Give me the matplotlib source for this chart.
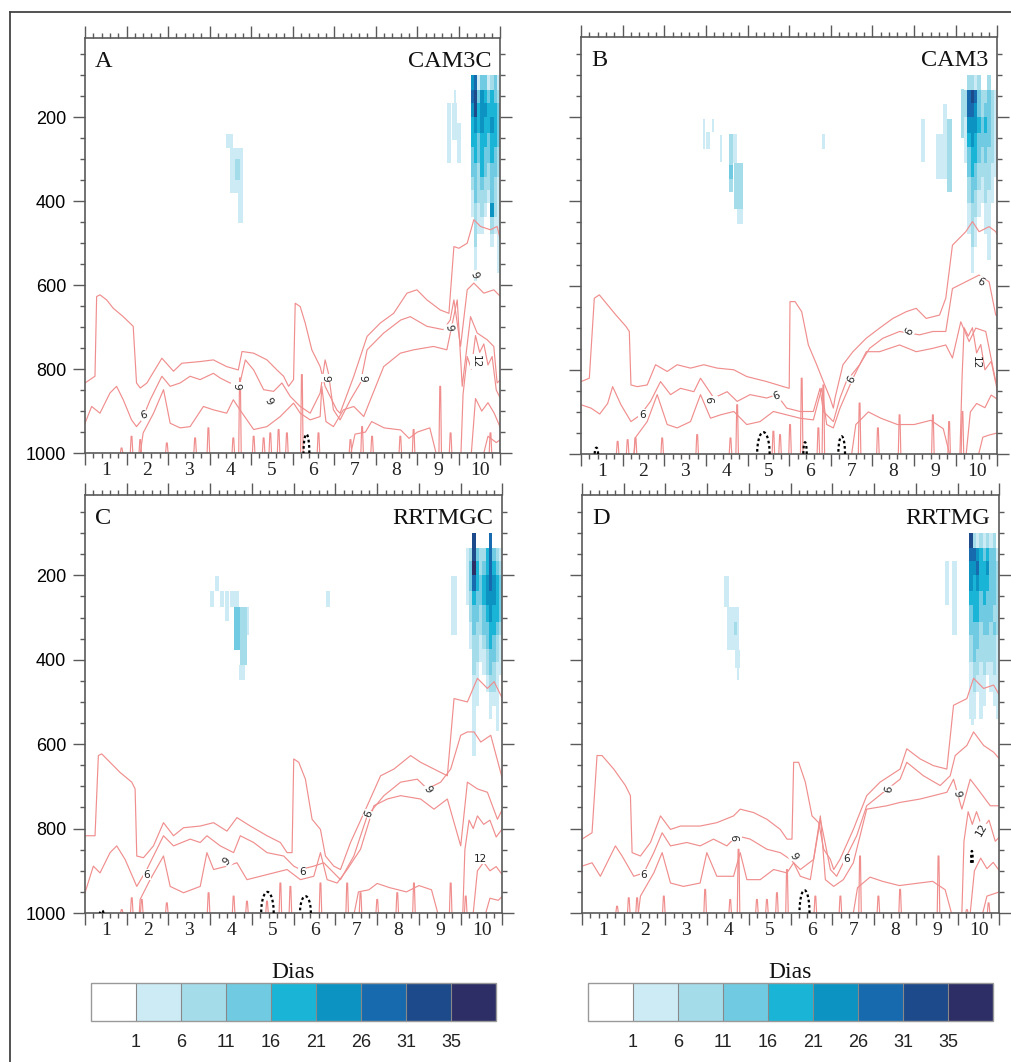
import numpy as np
import matplotlib
matplotlib.use('Agg')
import matplotlib.pyplot as plt
from matplotlib.colors import ListedColormap, BoundaryNorm
from matplotlib.cm import ScalarMappable
from matplotlib.ticker import FixedLocator, MultipleLocator, NullFormatter

# ---- shared values ----
day_labels = [1, 2, 3, 4, 5, 6, 7, 8, 9, 10]
p_ticks = [200, 400, 600, 800, 1000]
cbar_bounds = [1, 6, 11, 16, 21, 26, 31, 35]
level_colors = ['#ffffff', '#cdebf5', '#a5dcea', '#70cbe2', '#1ab5d6',
                '#0d93c1', '#176aae', '#1d4a8a', '#2d2e66']
panel_letters = ['A', 'B', 'C', 'D']
panel_names = ['CAM3C', 'CAM3', 'RRTMGC', 'RRTMG']

# ---- main upper-level cluster near day 10: row edges (hPa), column edges (day), levels ----
cluster_rows = [100, 136, 167, 199, 238, 271, 310, 342, 374, 405, 437, 477, 509, 540, 570]
a_cluster_cols = [9.28, 9.36, 9.44, 9.52, 9.60, 9.68, 9.76, 9.84, 9.92, 10.0]
a_cluster = [
    [5, 6, 1, 3, 3, 1, 2, 3, 1],
    [6, 7, 3, 5, 4, 3, 4, 3, 2],
    [5, 7, 4, 5, 5, 4, 4, 4, 3],
    [4, 5, 4, 5, 4, 4, 5, 4, 3],
    [4, 4, 3, 4, 4, 3, 4, 4, 3],
    [3, 4, 3, 4, 3, 3, 4, 3, 2],
    [3, 3, 2, 4, 3, 2, 3, 3, 2],
    [2, 3, 2, 3, 2, 2, 3, 2, 1],
    [1, 3, 2, 2, 2, 1, 3, 2, 1],
    [1, 2, 1, 2, 1, 0, 5, 2, 1],
    [0, 2, 1, 1, 0, 0, 2, 1, 1],
    [0, 2, 0, 0, 0, 0, 1, 0, 1],
    [0, 1, 0, 0, 0, 0, 0, 0, 1],
    [0, 1, 0, 0, 0, 0, 0, 0, 1],
]
b_cluster_cols = [9.20, 9.28, 9.36, 9.44, 9.52, 9.60, 9.68, 9.76, 9.84, 9.92, 10.0]
b_cluster = [
    [0, 2, 2, 1, 2, 0, 0, 2, 0, 0],
    [2, 6, 7, 6, 3, 2, 2, 3, 2, 1],
    [2, 6, 6, 5, 3, 2, 3, 3, 2, 1],
    [1, 5, 5, 5, 4, 3, 4, 3, 2, 1],
    [1, 4, 5, 4, 3, 3, 3, 3, 2, 1],
    [1, 3, 4, 4, 3, 2, 3, 2, 2, 1],
    [0, 3, 4, 3, 2, 2, 2, 2, 1, 1],
    [0, 2, 3, 3, 2, 1, 2, 2, 1, 0],
    [0, 2, 3, 2, 1, 1, 2, 1, 1, 0],
    [0, 1, 2, 2, 1, 0, 1, 1, 0, 0],
    [0, 1, 2, 1, 0, 0, 1, 1, 0, 0],
    [0, 0, 2, 1, 0, 0, 0, 1, 0, 0],
    [0, 0, 1, 0, 0, 0, 0, 1, 0, 0],
    [0, 0, 1, 0, 0, 0, 0, 0, 0, 0],
]
c_cluster_cols = [9.12, 9.20, 9.28, 9.36, 9.44, 9.52, 9.60, 9.68, 9.76, 9.84, 9.92, 10.0]
c_cluster = [
    [0, 0, 7, 0, 0, 0, 0, 6, 0, 0, 0],
    [1, 2, 7, 3, 2, 2, 4, 6, 3, 2, 1],
    [1, 3, 8, 4, 2, 3, 4, 6, 4, 3, 2],
    [1, 3, 6, 4, 3, 4, 5, 6, 5, 4, 3],
    [1, 2, 4, 3, 3, 4, 5, 5, 5, 4, 3],
    [0, 2, 3, 3, 2, 3, 4, 5, 4, 4, 3],
    [0, 1, 3, 2, 2, 3, 3, 4, 4, 3, 2],
    [0, 1, 2, 2, 1, 2, 3, 4, 3, 2, 1],
    [0, 0, 2, 2, 1, 1, 2, 3, 3, 2, 1],
    [0, 0, 2, 1, 0, 1, 2, 3, 2, 1, 1],
    [0, 0, 1, 1, 0, 0, 1, 2, 2, 1, 0],
    [0, 0, 1, 1, 0, 0, 0, 1, 1, 1, 0],
    [0, 0, 1, 0, 0, 0, 0, 1, 0, 1, 0],
    [0, 0, 1, 0, 0, 0, 0, 0, 0, 1, 0],
]
d_cluster_cols = [9.28, 9.36, 9.44, 9.52, 9.60, 9.68, 9.76, 9.84, 9.92, 10.0]
d_cluster = [
    [7, 2, 1, 2, 1, 2, 1, 2, 0],
    [6, 6, 5, 4, 3, 4, 3, 3, 1],
    [5, 5, 6, 4, 4, 5, 3, 3, 2],
    [5, 4, 5, 4, 4, 4, 3, 3, 2],
    [4, 4, 4, 3, 4, 3, 3, 3, 2],
    [3, 4, 4, 3, 3, 3, 3, 2, 2],
    [3, 3, 3, 2, 3, 3, 2, 3, 2],
    [2, 3, 3, 2, 2, 2, 2, 2, 1],
    [2, 3, 2, 2, 2, 2, 2, 2, 1],
    [1, 2, 2, 1, 2, 1, 1, 2, 1],
    [1, 2, 1, 1, 1, 0, 1, 1, 1],
    [1, 1, 0, 1, 1, 0, 0, 1, 1],
    [1, 1, 0, 1, 0, 0, 0, 0, 1],
    [0, 0, 0, 0, 0, 0, 0, 0, 0],
]

# ---- other blue cells: (day0, day1, p_top, p_bottom, level) ----
a_cells = [
    (3.40, 3.57, 240, 274, 1), (3.49, 3.81, 274, 381, 1), (3.62, 3.72, 300, 350, 2),
    (3.69, 3.80, 381, 452, 1),
    (8.71, 8.80, 166, 310, 1), (8.84, 8.96, 166, 254, 1), (8.88, 8.92, 136, 166, 1),
    (8.96, 9.04, 214, 310, 1), (9.36, 9.44, 570, 590, 1),
]
b_cells = [
    (2.93, 2.97, 204, 275, 1), (3.01, 3.09, 235, 275, 1), (3.15, 3.19, 204, 235, 1),
    (3.35, 3.39, 243, 306, 1), (3.55, 3.64, 239, 377, 2), (3.55, 3.64, 314, 346, 3),
    (3.64, 3.75, 239, 310, 1), (3.67, 3.89, 310, 417, 2), (3.75, 3.89, 417, 453, 1),
    (5.78, 5.86, 239, 275, 1),
    (8.17, 8.25, 204, 306, 1), (8.53, 8.69, 239, 346, 1), (8.69, 8.80, 168, 346, 1),
    (8.80, 8.92, 204, 377, 2), (9.12, 9.20, 132, 250, 2),
]
c_cells = [
    (3.00, 3.08, 238, 274, 1), (3.12, 3.20, 202, 238, 1), (3.24, 3.32, 238, 274, 1),
    (3.36, 3.44, 238, 309, 1), (3.48, 3.68, 238, 274, 1), (3.56, 3.72, 274, 377, 3),
    (3.72, 3.88, 274, 412, 2), (3.68, 3.84, 412, 448, 1), (3.88, 3.92, 274, 341, 1),
    (5.78, 5.86, 238, 274, 1),
    (8.76, 8.92, 202, 341, 1), (9.28, 9.36, 570, 627, 1),
]
d_cells = [
    (3.39, 3.51, 202, 274, 1), (3.47, 3.75, 274, 377, 1), (3.63, 3.71, 310, 341, 2),
    (3.67, 3.79, 377, 420, 1), (3.71, 3.76, 420, 448, 1),
    (8.70, 8.78, 166, 270, 1), (8.86, 8.98, 166, 341, 1), (9.32, 9.40, 540, 555, 1),
]

# ---- red contour lines: lists of (day, pressure) ----
a_lines = [
    [(0, 833), (0.24, 817), (0.28, 627), (0.36, 623), (0.52, 635), (0.68, 655), (0.92, 675),
     (1.16, 698), (1.24, 833), (1.33, 845), (1.49, 833), (1.85, 774), (2.13, 805), (2.33, 786),
     (2.77, 782), (3.09, 778), (3.41, 794), (3.69, 802), (3.78, 758), (4.06, 762), (4.38, 778),
     (4.62, 802), (4.78, 817), (4.9, 841), (5.02, 825), (5.06, 643), (5.18, 651), (5.3, 690),
     (5.46, 754), (5.66, 794), (5.78, 841), (6.06, 897), (6.14, 905), (6.47, 817), (6.79, 722),
     (7.11, 690), (7.43, 667), (7.75, 619), (7.99, 611), (8.23, 635), (8.55, 659), (8.76, 667),
     (8.88, 508), (9.0, 512), (9.2, 500), (9.36, 444), (9.52, 460), (9.76, 468), (9.92, 460),
     (10, 492)],
    [(0, 929), (0.16, 889), (0.36, 905), (0.6, 857), (0.76, 841), (0.92, 873), (1.12, 921),
     (1.24, 937), (1.37, 921), (1.57, 873), (1.85, 817), (2.05, 841), (2.29, 833), (2.53, 817),
     (2.77, 825), (3.09, 810), (3.25, 821), (3.49, 833), (3.73, 833), (3.86, 778), (4.06, 802),
     (4.3, 849), (4.54, 853), (4.74, 833), (4.94, 865), (5.18, 889), (5.42, 905), (5.66, 857),
     (5.78, 778), (5.86, 810), (5.98, 897), (6.14, 921), (6.39, 873), (6.63, 833), (6.79, 754),
     (7.19, 714), (7.6, 683), (7.83, 675), (8.23, 698), (8.63, 706), (8.79, 683), (8.88, 635),
     (9.04, 746), (9.2, 611), (9.36, 595), (9.6, 619), (9.84, 611), (10, 627)],
    [(1.33, 1000), (1.4, 952), (1.65, 905), (1.89, 849), (2.05, 929), (2.29, 940), (2.53, 937),
     (2.85, 889), (3.09, 897), (3.41, 905), (3.57, 873), (3.73, 897), (4.06, 944), (4.38, 937),
     (4.7, 913), (5.02, 881), (5.18, 905), (5.42, 921), (5.66, 913), (5.7, 841), (5.8, 925),
     (5.98, 937), (6.22, 897), (6.47, 889), (6.71, 913), (6.87, 873), (7.19, 794), (7.59, 762),
     (7.91, 754), (8.39, 746), (8.71, 754), (8.96, 635), (9.08, 841), (9.28, 675), (9.44, 714),
     (9.68, 730), (9.84, 746), (9.92, 833), (10, 825)],
    [(6.4, 1000), (6.5, 955), (6.75, 950), (6.9, 925), (7.2, 940), (7.6, 945), (7.8, 965),
     (8.0, 950), (8.3, 940), (8.45, 1000)],
    [(9.05, 1000), (9.1, 860), (9.2, 770), (9.3, 800), (9.4, 720), (9.5, 760), (9.6, 740),
     (9.7, 790), (9.8, 770), (9.9, 850), (10, 870)],
    [(9.3, 1000), (9.4, 870), (9.55, 900), (9.7, 880), (9.85, 905), (10, 940)],
    [(9.6, 1000), (9.7, 960), (9.9, 975), (10, 968)],
]
b_lines = [
    [(0, 828), (0.2, 820), (0.32, 630), (0.44, 622), (0.64, 646), (0.84, 670), (1.08, 697),
     (1.16, 709), (1.2, 836), (1.35, 840), (1.59, 836), (1.79, 788), (2.07, 804), (2.31, 788),
     (2.63, 796), (2.95, 788), (3.27, 796), (3.67, 800), (3.98, 816), (4.46, 828), (4.86, 840),
     (5.0, 844), (5.02, 638), (5.14, 638), (5.3, 662), (5.46, 741), (5.66, 788), (5.82, 828),
     (5.98, 867), (6.06, 891), (6.1, 867), (6.29, 788), (6.53, 757), (6.85, 725), (7.17, 701),
     (7.49, 678), (7.81, 662), (8.05, 654), (8.29, 678), (8.61, 670), (8.76, 630), (8.92, 504),
     (9.08, 488), (9.24, 472), (9.4, 448), (9.56, 472), (9.8, 460), (9.96, 472), (10, 480)],
    [(0, 883), (0.24, 891), (0.45, 905), (0.64, 880), (0.76, 840), (0.96, 883), (1.2, 923),
     (1.43, 907), (1.67, 875), (1.91, 828), (2.15, 859), (2.39, 844), (2.71, 852), (2.87, 820),
     (3.19, 867), (3.51, 852), (3.75, 875), (4.06, 859), (4.46, 867), (4.7, 859), (4.94, 891),
     (5.26, 899), (5.58, 899), (5.74, 844), (5.82, 899), (6.06, 923), (6.22, 867), (6.37, 828),
     (6.69, 788), (6.93, 749), (7.25, 725), (7.65, 709), (8.13, 717), (8.45, 709), (8.76, 709),
     (8.92, 607), (9.24, 591), (9.56, 575), (9.8, 591), (9.96, 670), (10, 672)],
    [(1.27, 1000), (1.3, 962), (1.59, 923), (1.83, 859), (2.07, 930), (2.31, 938), (2.63, 923),
     (2.87, 859), (3.11, 915), (3.35, 907), (3.67, 899), (3.98, 930), (4.3, 923), (4.62, 899),
     (4.94, 907), (5.26, 915), (5.58, 919), (5.78, 844), (5.9, 930), (6.06, 938), (6.22, 891),
     (6.53, 820), (6.85, 757), (7.17, 757), (7.65, 741), (8.05, 757), (8.45, 749), (8.76, 741),
     (8.92, 772), (9.12, 686), (9.32, 733), (9.48, 701), (9.72, 709), (9.96, 828), (10, 826)],
    [(6.5, 1000), (6.6, 930), (6.9, 900), (7.2, 915), (7.6, 930), (8.0, 930), (8.4, 920),
     (8.7, 940), (8.85, 1000)],
    [(9.1, 1000), (9.15, 820), (9.2, 700), (9.3, 720), (9.4, 700), (9.5, 760), (9.6, 740),
     (9.7, 800), (9.85, 780), (10, 850)],
    [(9.25, 1000), (9.35, 900), (9.5, 880), (9.7, 890), (9.85, 860), (10, 870)],
    [(9.55, 1000), (9.65, 960), (9.8, 955), (10, 950)],
]
c_lines = [
    [(0, 817), (0.24, 817), (0.32, 627), (0.4, 623), (0.6, 643), (0.84, 667), (1.12, 690),
     (1.2, 706), (1.24, 865), (1.4, 869), (1.64, 841), (1.88, 786), (2.12, 817), (2.36, 798),
     (2.76, 794), (3.08, 786), (3.4, 806), (3.64, 774), (3.96, 794), (4.36, 817), (4.68, 833),
     (4.84, 857), (4.96, 857), (5.0, 635), (5.12, 643), (5.28, 683), (5.44, 778), (5.64, 802),
     (5.76, 865), (5.96, 889), (6.12, 897), (6.36, 833), (6.76, 746), (7.08, 675), (7.4, 659),
     (7.8, 627), (8.04, 643), (8.36, 659), (8.68, 675), (8.84, 492), (9.16, 500), (9.4, 444),
     (9.64, 468), (9.8, 452), (10, 492)],
    [(0, 952), (0.2, 889), (0.36, 905), (0.6, 857), (0.76, 841), (0.96, 873), (1.24, 937),
     (1.48, 897), (1.72, 849), (1.88, 817), (2.12, 841), (2.52, 825), (2.76, 833), (2.92, 817),
     (3.24, 841), (3.56, 857), (3.72, 817), (4.04, 833), (4.36, 857), (4.76, 865), (5.0, 889),
     (5.16, 897), (5.48, 889), (5.72, 881), (5.96, 905), (6.12, 921), (6.44, 865), (6.76, 770),
     (7.16, 722), (7.56, 690), (7.96, 683), (8.2, 706), (8.52, 690), (8.76, 659), (9.0, 579),
     (9.16, 571), (9.32, 571), (9.48, 595), (9.72, 579), (10, 683)],
    [(1.3, 1000), (1.32, 968), (1.56, 921), (1.88, 865), (2.04, 937), (2.36, 952), (2.76, 937),
     (2.92, 857), (3.08, 897), (3.4, 889), (3.64, 881), (3.88, 921), (4.2, 913), (4.52, 905),
     (4.84, 897), (5.16, 921), (5.48, 913), (5.64, 857), (5.8, 921), (6.04, 929), (6.28, 897),
     (6.6, 849), (6.92, 746), (7.24, 730), (7.56, 722), (8.04, 730), (8.36, 754), (8.68, 730),
     (9.0, 841), (9.16, 690), (9.4, 706), (9.64, 714), (9.88, 778), (10, 754)],
    [(6.45, 1000), (6.55, 950), (6.8, 945), (7.0, 930), (7.3, 940), (7.7, 950), (8.0, 935),
     (8.3, 945), (8.45, 1000)],
    [(9.05, 1000), (9.1, 850), (9.2, 780), (9.3, 800), (9.4, 770), (9.55, 790), (9.7, 780),
     (9.85, 820), (10, 800)],
    [(9.3, 1000), (9.4, 900), (9.55, 880), (9.7, 900), (9.85, 890), (10, 910)],
    [(9.6, 1000), (9.7, 965), (9.9, 970), (10, 960)],
]
d_lines = [
    [(0, 825), (0.24, 810), (0.36, 627), (0.48, 627), (0.76, 659), (1.04, 698), (1.16, 722),
     (1.2, 857), (1.4, 865), (1.64, 833), (1.88, 770), (2.12, 802), (2.36, 794), (2.83, 794),
     (3.23, 786), (3.63, 770), (3.79, 754), (4.11, 762), (4.43, 778), (4.75, 802), (4.91, 825),
     (5.03, 825), (5.07, 643), (5.19, 643), (5.35, 690), (5.51, 770), (5.67, 786), (5.79, 849),
     (5.95, 873), (6.03, 897), (6.18, 873), (6.5, 802), (6.82, 722), (7.14, 690), (7.62, 659),
     (7.78, 611), (8.1, 635), (8.42, 651), (8.74, 659), (8.9, 508), (9.22, 492), (9.38, 444),
     (9.62, 468), (9.86, 460), (10, 484)],
    [(0, 889), (0.24, 881), (0.44, 913), (0.8, 841), (0.96, 865), (1.24, 913), (1.48, 905),
     (1.72, 857), (1.92, 810), (2.12, 841), (2.51, 833), (2.83, 841), (3.15, 825), (3.47, 841),
     (3.71, 817), (4.03, 825), (4.43, 849), (4.75, 857), (4.99, 873), (5.23, 897), (5.55, 873),
     (5.71, 778), (5.79, 817), (5.95, 897), (6.1, 913), (6.26, 881), (6.58, 817), (6.82, 746),
     (7.22, 714), (7.62, 683), (7.78, 643), (8.18, 675), (8.58, 698), (8.82, 675), (8.94, 627),
     (9.22, 603), (9.38, 571), (9.62, 603), (9.86, 619), (10, 635)],
    [(1.35, 1000), (1.4, 960), (1.72, 905), (1.92, 857), (2.12, 929), (2.43, 937), (2.83, 929),
     (2.99, 857), (3.23, 913), (3.63, 913), (3.79, 857), (3.95, 921), (4.27, 921), (4.59, 897),
     (4.91, 905), (5.07, 881), (5.23, 913), (5.47, 921), (5.71, 770), (5.83, 921), (6.03, 937),
     (6.26, 921), (6.5, 881), (6.82, 754), (7.3, 746), (7.62, 738), (8.1, 730), (8.42, 722),
     (8.74, 714), (8.9, 683), (9.1, 754), (9.3, 683), (9.54, 714), (9.78, 746), (10, 746)],
    [(6.5, 1000), (6.6, 940), (6.9, 915), (7.2, 925), (7.6, 935), (8.0, 930), (8.4, 925),
     (8.7, 945), (8.85, 1000)],
    [(9.1, 1000), (9.15, 830), (9.25, 760), (9.35, 790), (9.45, 760), (9.6, 800), (9.75, 780),
     (9.9, 830), (10, 820)],
    [(9.3, 1000), (9.4, 900), (9.55, 870), (9.7, 895), (9.85, 880), (10, 900)],
    [(9.6, 1000), (9.7, 960), (9.85, 955), (10, 950)],
]

# ---- thin closed contours rising from the surface: (day, top pressure) ----
a_spikes = [(0.88, 988), (1.12, 960), (1.33, 968), (1.97, 976), (2.65, 964), (2.97, 940),
            (3.57, 964), (3.73, 821), (4.06, 960), (4.3, 964), (4.46, 952), (4.66, 944),
            (4.86, 952), (5.22, 813), (5.62, 952), (6.39, 968), (6.67, 937), (6.91, 960),
            (7.59, 960), (7.91, 944), (8.55, 841), (8.8, 952), (9.76, 952)]
b_spikes = [(0.88, 970), (1.12, 966), (1.31, 962), (1.95, 962), (2.79, 954), (3.59, 962),
            (3.75, 883), (4.62, 946), (4.78, 954), (5.02, 930), (5.3, 820), (5.7, 938),
            (5.82, 836), (6.69, 879), (7.13, 938), (7.65, 907), (8.45, 907), (8.84, 923),
            (9.16, 899)]
c_spikes = [(0.88, 992), (1.12, 964), (1.36, 968), (1.96, 976), (2.96, 952), (3.56, 960),
            (3.88, 972), (4.36, 972), (4.68, 929), (4.92, 937), (5.64, 929), (6.28, 929),
            (6.6, 952), (7.0, 968), (7.48, 952), (7.88, 929), (8.76, 929), (9.12, 960)]
d_spikes = [(0.84, 984), (1.12, 964), (1.32, 964), (1.96, 960), (2.95, 944), (3.55, 968),
            (3.75, 849), (4.19, 968), (4.43, 968), (4.67, 952), (4.91, 897), (5.59, 960),
            (6.19, 960), (6.66, 865), (7.1, 960), (7.62, 944), (8.54, 865), (9.22, 992),
            (9.74, 976)]

# ---- black dashed (negative) contours: (centre day, half width, p_top, p_bottom) ----
a_neg = [(5.33, 0.07, 955, 1000)]
b_neg = [(0.37, 0.04, 985, 1000), (4.38, 0.15, 948, 1000), (5.38, 0.04, 972, 1000),
         (6.26, 0.08, 958, 1000)]
c_neg = [(0.4, 0.04, 994, 1000), (4.37, 0.15, 950, 1000), (5.28, 0.13, 960, 1000)]
d_neg = [(5.33, 0.12, 946, 1000), (9.34, 0.02, 853, 881)]

# ---- contour labels: (day, pressure, text, rotation) ----
a_labels = [(1.41, 909, '6', 15), (3.65, 841, '9', -90), (4.42, 877, '9', -60),
            (5.78, 821, '9', -90), (6.67, 821, '9', -90), (8.76, 702, '9', -80),
            (9.36, 575, '9', -70), (9.4, 782, '12', -90)]
b_labels = [(1.47, 907, '6', 0), (3.15, 871, '9', 90), (4.7, 863, '6', 20),
            (6.49, 824, '6', 60), (7.89, 709, '6', 60), (9.6, 591, '6', -30),
            (9.48, 784, '12', -90)]
c_labels = [(1.48, 909, '6', 0), (3.4, 879, '9', 45), (5.2, 902, '6', 0),
            (6.8, 766, '6', 70), (8.2, 706, '9', -60), (9.48, 871, '12', 0)]
d_labels = [(1.48, 909, '6', 0), (3.71, 821, '9', 90), (5.07, 865, '9', -60),
            (6.34, 873, '6', 0), (7.34, 706, '6', 80), (8.98, 718, '9', -80),
            (9.58, 802, '12', 60)]

all_cluster_cols = [a_cluster_cols, b_cluster_cols, c_cluster_cols, d_cluster_cols]
all_clusters = [a_cluster, b_cluster, c_cluster, d_cluster]
all_cells = [a_cells, b_cells, c_cells, d_cells]
all_lines = [a_lines, b_lines, c_lines, d_lines]
all_spikes = [a_spikes, b_spikes, c_spikes, d_spikes]
all_neg = [a_neg, b_neg, c_neg, d_neg]
all_labels = [a_labels, b_labels, c_labels, d_labels]

red = '#f08e8e'
frame_grey = '#5a5a5a'
serif = 'Liberation Serif'
sans = 'Liberation Sans'

cell_cmap = ListedColormap(level_colors[1:])
cell_norm = BoundaryNorm(np.arange(0.5, 9.5, 1.0), cell_cmap.N)

fig = plt.figure(figsize=(10.12, 10.62), dpi=100)

# figure frame (top and left edges)
fig.add_artist(plt.Line2D([10 / 1012, 1.0], [1 - 12 / 1062] * 2, color='#444444', lw=1.3,
                          transform=fig.transFigure))
fig.add_artist(plt.Line2D([10 / 1012] * 2, [0.0, 1 - 12 / 1062], color='#444444', lw=1.3,
                          transform=fig.transFigure))

positions = [
    [0.0840, 0.5734, 0.4105, 0.3912],
    [0.5741, 0.5725, 0.4115, 0.3925],
    [0.0840, 0.1403, 0.4125, 0.3935],
    [0.5751, 0.1403, 0.4125, 0.3935],
]

for k in range(4):
    ax = fig.add_axes(positions[k])

    lev = np.ma.masked_equal(np.array(all_clusters[k]), 0)
    ax.pcolormesh(all_cluster_cols[k], cluster_rows, lev, cmap=cell_cmap, norm=cell_norm,
                  shading='flat', linewidth=0, zorder=1)

    for d0, d1, pt, pb, lv in all_cells[k]:
        ax.bar(d0, pb - pt, bottom=pt, width=d1 - d0, align='edge',
               color=level_colors[lv], linewidth=0, zorder=1)

    for line in all_lines[k]:
        ds = [pt[0] for pt in line]
        ps = [pt[1] for pt in line]
        ax.plot(ds, ps, color=red, lw=0.85, zorder=2)

    for d, top in all_spikes[k]:
        ax.plot([d - 0.03, d - 0.01, d + 0.01, d + 0.03], [1000, top, top, 1000],
                color=red, lw=0.85, zorder=2)

    for c, hw, top, bot in all_neg[k]:
        t = np.linspace(0, np.pi, 30)
        ax.plot(c + hw * np.cos(t), bot - (bot - top) * np.sin(t), color='black',
                lw=1.6, ls=(0, (1.2, 1.2)), zorder=3)

    for d, p, txt, rot in all_labels[k]:
        ax.text(d, p, txt, fontsize=7.5, rotation=rot, ha='center', va='center',
                color='#222222', family='DejaVu Sans', zorder=4,
                bbox=dict(boxstyle='square,pad=0.05', fc='white', ec='none'))

    ax.set_xlim(0, 10)
    ax.set_ylim(1000, 10)

    ax.xaxis.set_major_locator(FixedLocator(range(0, 11)))
    ax.xaxis.set_minor_locator(MultipleLocator(0.2))
    ax.xaxis.set_major_formatter(NullFormatter())
    ax.yaxis.set_major_locator(FixedLocator(p_ticks))
    ax.yaxis.set_minor_locator(FixedLocator(np.arange(50, 1001, 50)))
    ax.set_yticklabels([str(v) for v in p_ticks], fontsize=13, family=sans)
    ax.tick_params(which='both', direction='out', top=True, right=True, color=frame_grey,
                   width=1.0)
    ax.tick_params(which='major', length=8.5, pad=5)
    ax.tick_params(which='minor', length=3.5)
    if k % 2 == 1:
        ax.set_yticklabels([])

    for d in day_labels:
        ax.text(d - 0.5, -0.022, str(d), transform=ax.get_xaxis_transform(), ha='center',
                va='top', fontsize=14, family=serif, color='#222222')

    for sp in ax.spines.values():
        sp.set_color(frame_grey)
        sp.set_linewidth(1.2)

    ax.text(0.024, 0.93, panel_letters[k], transform=ax.transAxes, fontsize=17.5,
            family=serif, ha='left', va='baseline', color='#111111')
    ax.text(0.978, 0.93, panel_names[k], transform=ax.transAxes, fontsize=17.5,
            family=serif, ha='right', va='baseline', color='#111111')

# colour bars
cmap = ListedColormap(level_colors[1:-1])
cmap.set_under(level_colors[0])
cmap.set_over(level_colors[-1])
norm = BoundaryNorm(cbar_bounds, cmap.N)

for left in [0.0899, 0.5810]:
    cax = fig.add_axes([left, 0.0386, 0.4002, 0.0358])
    cb = fig.colorbar(ScalarMappable(norm=norm, cmap=cmap), cax=cax, orientation='horizontal',
                      extend='both', extendrect=True, extendfrac=1 / 7, drawedges=True,
                      spacing='uniform', ticks=cbar_bounds)
    cb.outline.set_edgecolor('#999999')
    cb.outline.set_linewidth(1.0)
    cb.dividers.set_color('#888888')
    cb.dividers.set_linewidth(0.8)
    cb.ax.tick_params(length=0, pad=9, labelsize=13)
    for lab in cb.ax.get_xticklabels():
        lab.set_family(sans)
        lab.set_color('#222222')
    cb.ax.set_title('Dias', family=serif, fontsize=17, pad=3, color='#111111')

fig.savefig('out.png', dpi=100, facecolor='white')
